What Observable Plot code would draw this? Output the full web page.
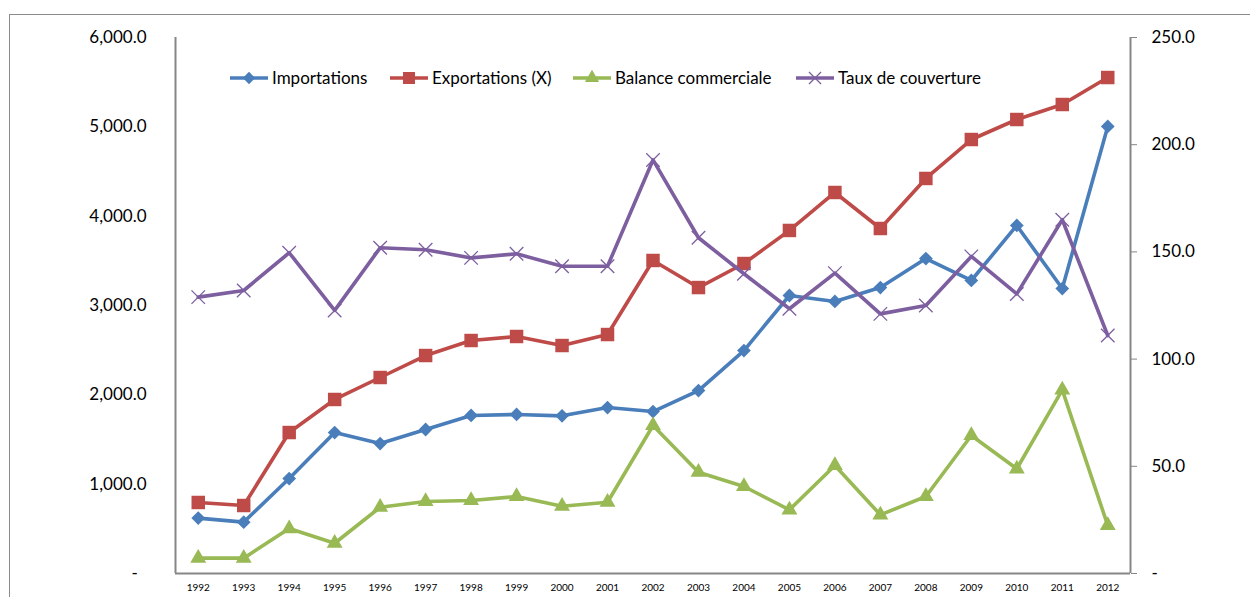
<!DOCTYPE html>
<html>
<head>
<meta charset="utf-8">
<script src="https://cdn.jsdelivr.net/npm/d3@7"></script>
<script src="https://cdn.jsdelivr.net/npm/@observablehq/plot@0.6"></script>
<style>
  html, body { margin: 0; padding: 0; background: #fff; overflow: hidden; }
  #wrap { position: relative; width: 1250px; height: 597px; font-family: Lato, "Open Sans", sans-serif; }
  #border { position: absolute; left: 9px; top: 14px; width: 1300px; height: 700px;
            border-top: 1px solid #8c8c8c; border-left: 1px solid #8c8c8c; }
  #chart { position: absolute; left: 0; top: 0; }
  .leg { position: absolute; top: 67px; display: flex; align-items: center; font-size: 17px; color: #000; white-space: nowrap; }
  .leg svg { margin-right: 3px; }
</style>
</head>
<body>
<div id="wrap">
  <div id="border"></div>
  <div id="chart"></div>
</div>
<script>
const years = [1992,1993,1994,1995,1996,1997,1998,1999,2000,2001,2002,2003,2004,2005,2006,2007,2008,2009,2010,2011,2012];
const importations = [620,575,1063,1578,1455,1612,1769,1780,1765,1858,1813,2048,2496,3112,3045,3201,3526,3280,3896,3190,5004];
const exportations = [795,761,1578,1948,2194,2440,2608,2653,2552,2675,3504,3201,3470,3840,4265,3862,4422,4858,5082,5250,5552];
const balance = [172,172,503,339,742,806,817,862,753,798,1657,1134,974,713,1209,657,862,1545,1172,2056,537];
const taux = [128.9,132.0,149.6,122.7,151.9,151.0,147.2,149.1,143.3,143.3,192.9,156.6,139.8,123.5,140.1,121.1,125.0,147.9,130.4,165.0,111.0];
const leftTicks = [0,1000,2000,3000,4000,5000,6000];
const rightTicks = [0,50,100,150,200,250];
const seriesNames = ["Importations","Exportations (X)","Balance commerciale","Taux de couverture"];

const leftMax = 6000, rightMax = 250, ratio = leftMax / rightMax;
const colors = ["#4a7ebb","#be4b48","#98b954","#7d5fa0"];
const fmt = d3.format(",.1f");

const series = [
  {name: seriesNames[0], values: importations, k: 1, symbol: "diamond2", r: 6.2, color: colors[0]},
  {name: seriesNames[1], values: exportations, k: 1, symbol: "square", r: 7.6, color: colors[1]},
  {name: seriesNames[2], values: balance, k: 1, symbol: "triangle", r: 5.9, color: colors[2]},
  {name: seriesNames[3], values: taux, k: ratio, symbol: "times", r: 6.2, color: colors[3]}
];

const marks = [
  Plot.ruleY([0], {stroke: "#868686", strokeWidth: 2}),
  Plot.ruleX([1991.5, 2012.5], {stroke: "#868686", strokeWidth: 2}),
  Plot.axisY({ticks: leftTicks, tickSize: 0, tickPadding: 29, label: null, fontSize: 17,
    tickFormat: d => d === 0 ? "-\u00a0\u00a0" : fmt(d)}),
  Plot.axisY({anchor: "right", ticks: rightTicks.map(v => v * ratio), tickSize: 6, tickPadding: 15,
    stroke: "#868686", label: null, fontSize: 17,
    tickFormat: d => d === 0 ? "-" : fmt(d / ratio)}),
  Plot.axisX({ticks: years, tickSize: 0, tickPadding: 10, label: null, fontSize: 10,
    tickFormat: d => String(d)})
];

for (const s of series) {
  const rows = years.map((y, i) => ({year: y, v: s.values[i] * s.k}));
  marks.push(Plot.line(rows, {x: "year", y: "v", stroke: s.color, strokeWidth: 3.6, strokeLinejoin: "round"}));
  if (s.symbol === "times") {
    marks.push(Plot.dot(rows, {x: "year", y: "v", symbol: "times", r: s.r, stroke: s.color, strokeWidth: 1.3, fill: "none"}));
  } else {
    marks.push(Plot.dot(rows, {x: "year", y: "v", symbol: s.symbol, r: s.r, fill: s.color, stroke: "none"}));
  }
}

const chart = Plot.plot({
  width: 1250, height: 597,
  marginLeft: 175, marginRight: 120, marginTop: 37, marginBottom: 24,
  style: {fontFamily: "Lato, 'Open Sans', sans-serif", color: "#000", background: "transparent", overflow: "visible"},
  x: {type: "linear", domain: [1991.5, 2012.5]},
  y: {domain: [0, leftMax]},
  marks
});
document.getElementById("chart").appendChild(chart);

// Legend
const legX = [229, 389, 572, 795];
const wrap = document.getElementById("wrap");
series.forEach((s, i) => {
  const div = document.createElement("div");
  div.className = "leg";
  div.style.left = legX[i] + "px";
  const svg = d3.create("svg").attr("width", 40).attr("height", 18);
  svg.append("line").attr("x1", 1).attr("x2", 39).attr("y1", 9).attr("y2", 9)
    .attr("stroke", s.color).attr("stroke-width", 3.6);
  const symMap = {diamond2: d3.symbolDiamond2, square: d3.symbolSquare, triangle: d3.symbolTriangle, times: d3.symbolTimes};
  const size = Math.PI * s.r * s.r * 0.8;
  const p = svg.append("path").attr("transform", "translate(20,9)")
    .attr("d", d3.symbol(symMap[s.symbol], size)());
  if (s.symbol === "times") p.attr("fill", "none").attr("stroke", s.color).attr("stroke-width", 1.3);
  else p.attr("fill", s.color);
  div.appendChild(svg.node());
  const t = document.createElement("span");
  t.textContent = s.name;
  div.appendChild(t);
  wrap.appendChild(div);
});
</script>
</body>
</html>
